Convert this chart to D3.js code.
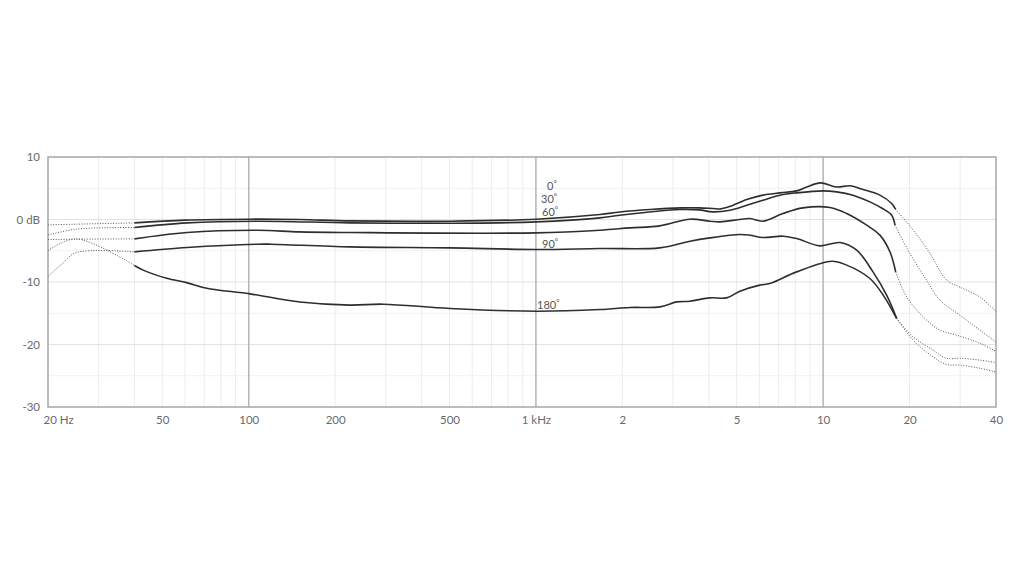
<!DOCTYPE html>
<html>
<head>
<meta charset="utf-8">
<script src="https://cdn.jsdelivr.net/npm/d3@7"></script>
<style>
  html, body { margin: 0; padding: 0; background: #fff; }
  svg { display: block; font-family: Lato, "Open Sans", sans-serif; }
</style>
</head>
<body>
<svg id="chart" width="1024" height="578"></svg>
<script>
// ---------- data ----------
const xTicks = [20, 50, 100, 200, 500, 1000, 2000, 5000, 10000, 20000, 40000];
const xTickLabels = ["20 Hz", "50", "100", "200", "500", "1 kHz", "2", "5", "10", "20", "40"];
const yTicks = [10, 0, -10, -20, -30];
const yTickLabels = ["10", "0 dB", "-10", "-20", "-30"];
const seriesNames = ["0°", "30°", "60°", "90°", "180°"];
const solidStart = 40;
const solidEnds = [17900, 17800, 17900, 18030, 18030];

const curve0 = [[20,-0.86],[25,-0.75],[40,-0.54],[60,-0.1],[100,0.05],[150,0],[225,-0.22],[500,-0.27],[1000,0.05],[1670,0.8],[1960,1.2],[2500,1.6],[3200,1.86],[3700,1.86],[4130,1.76],[4400,1.7],[4740,2.1],[5420,3.2],[6170,3.9],[7080,4.26],[8090,4.58],[8770,5.2],[9800,5.86],[11140,5.2],[12420,5.4],[13770,4.8],[15770,3.9],[17330,2.56],[17900,1.6],[20600,-1.7],[23550,-5.4],[26910,-9.7],[29930,-10.8],[35140,-12.4],[40000,-14.7]];
const curve30 = [[20,-2.5],[25,-1.55],[40,-1.28],[61,-0.54],[107,-0.27],[225,-0.54],[500,-0.6],[1000,-0.38],[1670,0.26],[1960,0.69],[3170,1.6],[3700,1.54],[4130,1.22],[4740,1.49],[5420,2.29],[6170,3.09],[7080,3.89],[8090,4.26],[10000,4.58],[11140,4.42],[12700,3.89],[14550,2.82],[16100,1.76],[17330,0.69],[17800,-0.91],[20050,-5.44],[22920,-9.7],[25510,-12.9],[29930,-15.3],[35140,-17.7],[40000,-19.6]];
const curve60 = [[20,-3.2],[25,-3.15],[40,-3.1],[61,-2.08],[107,-1.71],[150,-1.98],[225,-2.08],[1000,-2.14],[1670,-1.71],[2125,-1.34],[2700,-1.02],[3437,0.05],[4036,-0.27],[4374,-0.38],[5131,0],[5561,0.16],[6168,-0.27],[7244,0.96],[8505,1.86],[10565,1.92],[12081,0.96],[14186,-0.91],[15771,-2.5],[17100,-5.2],[17900,-8.4],[19550,-12.4],[22330,-15.6],[25510,-17.7],[29150,-18.5],[35140,-19.8],[40000,-21.1]];
const curve90 = [[20,-9.1],[22.5,-7.0],[25,-5.3],[40,-5.18],[61,-4.48],[107,-3.95],[119,-3.95],[225,-4.38],[500,-4.54],[1000,-4.8],[1670,-4.64],[2700,-4.54],[3437,-3.47],[4036,-2.94],[5131,-2.4],[5561,-2.51],[6168,-2.88],[7244,-2.67],[8087,-3.04],[9750,-4.22],[11455,-3.68],[13090,-4.91],[14920,-8.38],[16641,-12.1],[18030,-15.8],[20600,-18.8],[24170,-20.9],[26910,-22.2],[29930,-22.2],[35140,-22.5],[40000,-22.9]];
const curve180 = [[20,-5.0],[25,-3.1],[40,-7.36],[42.9,-8.1],[51.8,-9.4],[60.8,-10.1],[71.4,-11.0],[101,-11.9],[150.8,-13.2],[225,-13.7],[294,-13.55],[502,-14.24],[1007,-14.67],[1671,-14.4],[2125,-14.08],[2703,-13.98],[3091,-13.18],[3437,-13.07],[4036,-12.54],[4614,-12.54],[5131,-11.47],[6021,-10.5],[6525,-10.24],[8087,-8.38],[10714,-6.67],[12081,-7.3],[14554,-9.44],[16188,-12.1],[18030,-15.84],[20600,-19.3],[24170,-22.0],[26910,-23.2],[29930,-23.3],[35140,-23.8],[40000,-24.4]];
const allCurves = [curve0, curve30, curve60, curve90, curve180];

// ---------- layout ----------
const svg = d3.select("#chart");
const pL = 48, pR = 996, pT = 157, pB = 407;
const x = d3.scaleLog().domain([20, 40000]).range([pL, pR]);
const y = d3.scaleLinear().domain([-30, 10]).range([pB, pT]);

// minor vertical grid
const minorX = [];
[10, 100, 1000, 10000].forEach(dec => {
  for (let m = 2; m <= 9; m++) {
    const f = dec * m;
    if (f > 20 && f < 40000) minorX.push(f);
  }
});
svg.append("g").selectAll("line").data(minorX).join("line")
  .attr("x1", d => x(d)).attr("x2", d => x(d))
  .attr("y1", pT).attr("y2", pB)
  .attr("stroke", "#ececec").attr("stroke-width", 1);

// horizontal grid: 5 dB minor, 10 dB major
const minorY = [5, -5, -15, -25];
svg.append("g").selectAll("line").data(minorY).join("line")
  .attr("x1", pL).attr("x2", pR)
  .attr("y1", d => y(d)).attr("y2", d => y(d))
  .attr("stroke", "#f1f1f1").attr("stroke-width", 1);
svg.append("g").selectAll("line").data([0, -10, -20]).join("line")
  .attr("x1", pL).attr("x2", pR)
  .attr("y1", d => y(d)).attr("y2", d => y(d))
  .attr("stroke", "#e2e2e2").attr("stroke-width", 1);

// major verticals
svg.append("g").selectAll("line").data([100, 1000, 10000]).join("line")
  .attr("x1", d => x(d)).attr("x2", d => x(d))
  .attr("y1", pT).attr("y2", pB)
  .attr("stroke", "#b4b4b4").attr("stroke-width", 1.5);

// frame
svg.append("rect")
  .attr("x", pL).attr("y", pT)
  .attr("width", pR - pL).attr("height", pB - pT)
  .attr("fill", "none").attr("stroke", "#a6a6a6").attr("stroke-width", 1.5);

// axes
const axisFont = "Lato, 'Open Sans', sans-serif";
const xAxis = svg.append("g").attr("transform", `translate(0,${pB})`)
  .call(d3.axisBottom(x).tickValues(xTicks).tickSize(0).tickPadding(9)
    .tickFormat((d, i) => xTickLabels[i]));
xAxis.select(".domain").remove();
xAxis.selectAll("text").attr("fill", "#6a6a6a").style("font-size", "11.5px")
  .style("font-family", axisFont);
xAxis.selectAll("text").filter((d, i) => i === 0)
  .attr("text-anchor", "start").attr("dx", -5);

const yAxis = svg.append("g").attr("transform", `translate(${pL},0)`)
  .call(d3.axisLeft(y).tickValues(yTicks).tickSize(0).tickPadding(8)
    .tickFormat((d, i) => yTickLabels[i]));
yAxis.select(".domain").remove();
yAxis.selectAll("text").attr("fill", "#6a6a6a").style("font-size", "11.5px")
  .style("font-family", axisFont);

// curves
const line = d3.line().x(d => x(d[0])).y(d => y(d[1])).curve(d3.curveCatmullRom.alpha(0.5));
const g = svg.append("g");
allCurves.forEach((c, i) => {
  const end = solidEnds[i];
  const low = c.filter(p => p[0] <= solidStart);
  const mid = c.filter(p => p[0] >= solidStart && p[0] <= end);
  const high = c.filter(p => p[0] >= end);
  [low, high].forEach(seg => {
    g.append("path").attr("d", line(seg))
      .attr("fill", "none").attr("stroke", "#555")
      .attr("stroke-width", 1).attr("stroke-dasharray", "1,1.6");
  });
  g.append("path").attr("d", line(mid))
    .attr("fill", "none").attr("stroke", "#2e2e2e")
    .attr("stroke-width", 1.6).attr("stroke-linejoin", "round");
});

// series labels
const labelPos = [[547, 190], [541, 202.5], [542, 215.5], [542, 248], [537, 309]];
seriesNames.forEach((name, i) => {
  const t = svg.append("text")
    .attr("x", labelPos[i][0]).attr("y", labelPos[i][1])
    .attr("fill", "#555").style("font-size", "11px");
  t.append("tspan").text(name.replace("°", ""));
  t.append("tspan").text("°").attr("dy", -4).style("font-size", "8px");
});
</script>
</body>
</html>
